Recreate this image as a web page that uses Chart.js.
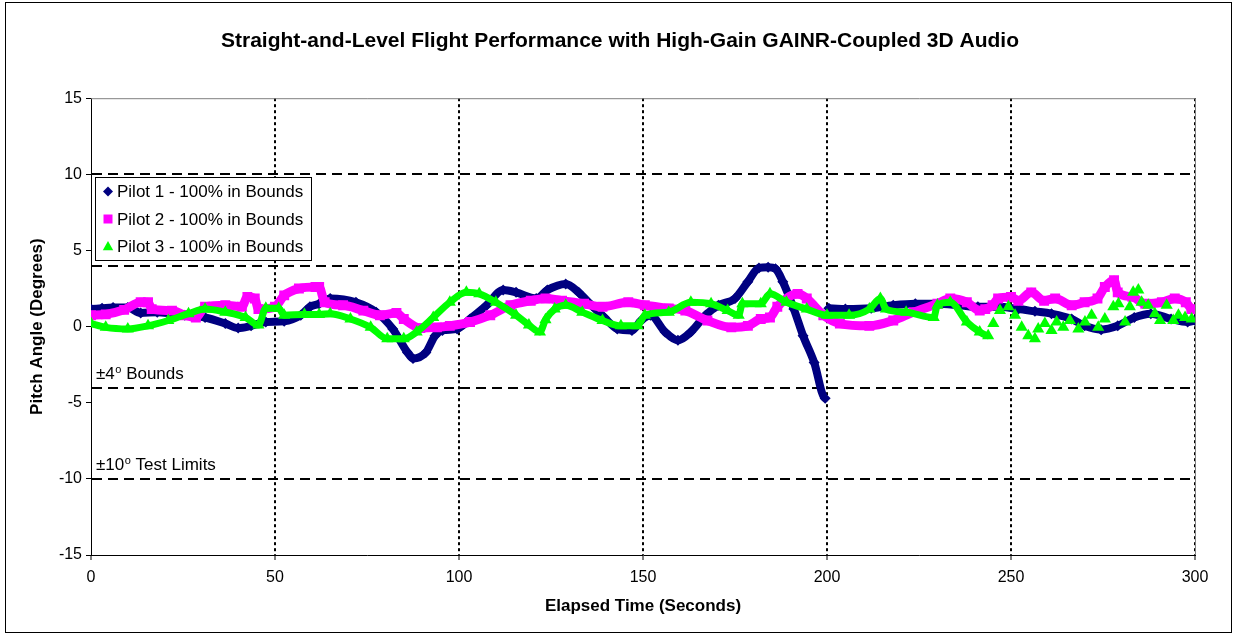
<!DOCTYPE html>
<html>
<head>
<meta charset="utf-8">
<title>Straight-and-Level Flight Performance</title>
<script src="https://cdn.jsdelivr.net/npm/chart.js@4.4.1/dist/chart.umd.min.js"></script>
<style>
  html, body { margin: 0; padding: 0; background: #fff; }
  #wrap { position: relative; width: 1236px; height: 637px; }
</style>
</head>
<body>
<div id="wrap"><canvas id="flight" width="1236" height="637"></canvas></div>
<script>
// elapsed time (s) and pitch angle (deg)
const p1Time = [0, 3, 6, 10, 13.5, 18, 22, 25.5, 31, 36.5, 40, 43.5, 47.5, 52.5, 57, 59.5, 62, 65, 72, 77.5,
  82, 86, 87.5, 91, 93.5, 95.5, 99.5, 103, 107.5, 112, 115.5, 121, 124, 129, 132.5, 136, 139.5, 143, 147, 149.5,
  152, 156, 159.5, 163, 167, 170.5, 175, 178.5, 181.5, 184, 186, 188, 191, 193.5, 196.5, 199.5,
  200.5, 205, 212, 218, 224, 230, 236, 241, 246.5, 252, 256.5, 261, 266.5, 270, 274.5, 279, 283.5, 288, 293.5, 298, 300];
const p1Pitch = [1.15, 1.2, 1.25, 1.25, 0.9, 0.95, 0.85, 0.75, 0.6, 0.2, -0.1, 0.05, 0.3, 0.35, 0.75, 1.3, 1.5, 1.85, 1.6, 0.95,
  -0.15, -1.7, -2.1, -1.7, -0.6, -0.25, -0.15, 0.5, 1.4, 2.4, 2.25, 1.85, 2.4, 2.8, 2.25, 1.4, 0.6, -0.15, -0.25, 0.4,
  0.75, -0.35, -0.9, -0.35, 0.75, 1.4, 1.85, 2.95, 3.85, 3.9, 3.8, 2.95, 1.15, -0.6, -2.35, -4.7,
  1.2, 1.15, 1.2, 1.4, 1.5, 1.5, 1.4, 1.3, 1.3, 1.15, 1.0, 0.85, 0.5, 0.05, -0.2, 0.05, 0.6, 0.85, 0.5, 0.3, 0.4];

const p2Time = [0, 4, 9, 13.5, 15.5, 16.5, 22, 25.5, 28.5, 31, 36.5, 41, 42.5, 44.5, 45.5, 50, 52.5, 56.5, 61, 62,
  63.5, 68.5, 74, 78.5, 83, 85, 89.5, 94, 97.5, 103, 108.5, 114, 119.5, 123.5, 128, 134, 139, 146, 150.5, 157,
  161.5, 167.5, 174, 178.5, 182, 184.5, 186.5, 192, 194.5, 199, 203.5, 211.5, 218, 223.5, 230, 233.5, 238, 241.5, 243, 245,
  246.5, 250, 252, 255.5, 259, 262, 266.5, 270, 273.5, 275.5, 278, 279, 283, 286.5, 291, 294.5, 297.5, 299];
const p2Pitch = [0.75, 0.8, 1.1, 1.6, 1.6, 1.15, 1.05, 0.75, 0.6, 1.3, 1.4, 1.3, 1.95, 1.85, 1.15, 1.3, 2.05, 2.5, 2.6, 2.6,
  1.6, 1.4, 1.05, 0.75, 0.9, 0.5, -0.1, -0.05, 0.05, 0.3, 0.75, 1.4, 1.7, 1.85, 1.7, 1.5, 1.3, 1.6, 1.4, 1.2,
  1.05, 0.4, -0.05, 0.05, 0.5, 0.6, 1.3, 2.15, 1.85, 0.75, 0.2, 0.05, 0.4, 0.95, 1.5, 1.85, 1.6, 1.05, 1.15, 1.4,
  1.85, 1.95, 1.7, 2.25, 1.7, 1.85, 1.4, 1.6, 1.85, 2.6, 3.05, 2.25, 1.95, 1.5, 1.6, 1.85, 1.6, 1.15];

const p3Time = [0, 4, 10, 15.5, 21, 26.5, 31, 36.5, 42, 45.5, 47.5, 51, 52.5, 58, 62, 65, 70.5, 76, 80.5, 85,
  88.5, 93, 97.5, 102, 105.5, 110, 115.5, 119, 122, 123.5, 126, 129, 133.5, 139, 144, 148.5, 150.5, 157, 163, 168.5,
  173, 176, 177, 182, 184.5, 189, 194.5, 200, 206, 211.5, 214.5, 216, 221.5, 229, 230, 233.5, 238, 241.5, 243.8,
  245.2, 247, 249.3, 251.1, 252.9, 254.7, 256.5, 257.4, 259.2, 261, 262.4, 264.2, 266, 268.3, 270.1, 271.9, 273.7,
  275.5, 277.8, 279.2, 281, 282.3, 283.2, 284.6, 285.5, 287.3, 289.1, 290.5, 292.3, 294.1, 295.5, 297.3, 299.1];
const p3Pitch = [0.2, -0.05, -0.15, 0.05, 0.4, 0.85, 1.15, 0.95, 0.6, 0.1, 1.2, 1.2, 0.75, 0.8, 0.8, 0.85, 0.5, -0.05, -0.8, -0.8,
  -0.35, 0.6, 1.6, 2.25, 2.15, 1.6, 0.75, 0.1, -0.35, 0.45, 1.15, 1.4, 0.95, 0.4, 0.05, 0.05, 0.75, 0.95, 1.6, 1.5,
  1.05, 0.75, 1.5, 1.5, 2.15, 1.6, 1.15, 0.75, 0.75, 1.15, 1.85, 1.15, 0.95, 0.6, 1.4, 1.6, 0.3, -0.35, -0.6,
  0.2, 1.05, 1.3, 0.75, -0.05, -0.6, -0.8, -0.15, 0.2, -0.25, 0.3, -0.05, 0.4, -0.15, 0.3, 0.75, -0.05,
  0.5, 1.3, 1.5, 0.3, 1.3, 2.25, 2.4, 1.6, 1.4, 0.85, 0.4, 1.4, 0.4, 0.75, 0.6, 0.5];
// after this time pilot 3 shows up only as scattered markers
const p3ScatterFrom = 243.8;

const seriesLabels = ['Pilot 1 - 100% in Bounds', 'Pilot 2 - 100% in Bounds', 'Pilot 3 - 100% in Bounds'];

const xTicks = { min: 0, max: 300, step: 50 };
const yTicks = { min: -15, max: 15, step: 5 };

// dashed bound lines and their notes
const boundLevels = [10, 4, -4, -10];
const noteLevels = [-4, -10];
const noteTexts = [['\u00b14', 'o', ' Bounds'], ['\u00b110', 'o', ' Test Limits']];

const FONT = '"Liberation Sans", Arial, sans-serif';
Chart.defaults.font.family = FONT;
Chart.defaults.color = '#000';

const pts = (xs, ys) => xs.map((x, i) => ({ x: x, y: ys[i] }));

// hide connecting line across big jumps (trace restarts)
const jumpGap = (limit) => (ctx) => {
  const a = ctx.p0.parsed, b = ctx.p1.parsed;
  if (Math.abs(b.y - a.y) > 3 || a.x >= limit) return 'rgba(0,0,0,0)';
  return undefined;
};

function marker(ctx, style, x, y, r) {
  ctx.beginPath();
  if (style === 'rectRot') {
    ctx.moveTo(x, y - r); ctx.lineTo(x + r, y); ctx.lineTo(x, y + r); ctx.lineTo(x - r, y);
  } else if (style === 'rect') {
    ctx.rect(x - r, y - r, 2 * r, 2 * r);
  } else {
    ctx.moveTo(x, y - r); ctx.lineTo(x + r * 0.95, y + r * 0.7); ctx.lineTo(x - r * 0.95, y + r * 0.7);
  }
  ctx.closePath();
  ctx.fill();
}

const decor = {
  id: 'decor',
  beforeDatasetsDraw(chart) {
    const { ctx, chartArea: a, scales: { y } } = chart;
    ctx.save();
    // grey frame on top and right of plot area
    ctx.strokeStyle = '#808080';
    ctx.lineWidth = 1;
    ctx.beginPath();
    ctx.moveTo(a.left, a.top + 0.5);
    ctx.lineTo(a.right + 0.5, a.top + 0.5);
    ctx.lineTo(a.right + 0.5, a.bottom);
    ctx.stroke();

    ctx.strokeStyle = '#000';
    ctx.lineWidth = 2;
    ctx.setLineDash([10, 6]);
    boundLevels.forEach(v => {
      const py = Math.round(y.getPixelForValue(v));
      ctx.beginPath();
      ctx.moveTo(a.left + 1, py);
      ctx.lineTo(a.right, py);
      ctx.stroke();
    });
    ctx.setLineDash([]);

    ctx.fillStyle = '#000';
    ctx.textBaseline = 'alphabetic';
    noteLevels.forEach((v, i) => {
      const [lead, sup, tail] = noteTexts[i];
      const base = y.getPixelForValue(v) - 9;
      let x = a.left + 5;
      ctx.font = '17px ' + FONT;
      ctx.fillText(lead, x, base);
      x += ctx.measureText(lead).width + 0.5;
      ctx.font = '11px ' + FONT;
      ctx.fillText(sup, x, base - 6);
      x += ctx.measureText(sup).width;
      ctx.font = '17px ' + FONT;
      ctx.fillText(tail, x, base);
    });
    ctx.restore();
  },
  afterDatasetsDraw(chart) {
    const { ctx, chartArea: a, scales: { y } } = chart;
    const left = a.left + 4, top = Math.round(y.getPixelForValue(10)) + 3;
    ctx.save();
    ctx.fillStyle = '#fff';
    ctx.fillRect(left, top, 217, 84);
    ctx.strokeStyle = '#000';
    ctx.lineWidth = 1;
    ctx.strokeRect(left + 0.5, top + 0.5, 216, 83);
    ctx.font = '17px ' + FONT;
    ctx.textBaseline = 'middle';
    chart.data.datasets.forEach((ds, i) => {
      const cy = top + 14.5 + i * 27.5;
      ctx.fillStyle = ds.pointBackgroundColor;
      const r = ds.pointStyle === 'rect' ? 4.5 : (ds.pointStyle === 'triangle' ? 5.5 : 5);
      marker(ctx, ds.pointStyle, left + 13, cy, r);
      ctx.fillStyle = '#000';
      ctx.fillText(ds.label, left + 22, cy + 1);
    });
    ctx.restore();
  },
  afterDraw(chart) {
    const { ctx } = chart;
    ctx.save();
    ctx.strokeStyle = '#000';
    ctx.lineWidth = 1;
    ctx.strokeRect(5.5, 2.5, 1226, 630);
    ctx.restore();
  }
};

new Chart(document.getElementById('flight'), {
  type: 'scatter',
  data: {
    datasets: [
      {
        label: seriesLabels[0],
        data: pts(p1Time, p1Pitch),
        showLine: true,
        borderColor: '#000080',
        backgroundColor: '#000080',
        pointBackgroundColor: '#000080',
        borderWidth: 8,
        pointStyle: 'rectRot',
        pointRadius: 5.5,
        pointBorderWidth: 0,
        cubicInterpolationMode: 'monotone',
        borderJoinStyle: 'round',
        segment: { borderColor: jumpGap(1000) },
        order: 3
      },
      {
        label: seriesLabels[1],
        data: pts(p2Time, p2Pitch),
        showLine: true,
        borderColor: '#ff00ff',
        backgroundColor: '#ff00ff',
        pointBackgroundColor: '#ff00ff',
        borderWidth: 9,
        pointStyle: 'rect',
        pointRadius: 7,
        pointBorderWidth: 0,
        cubicInterpolationMode: 'monotone',
        borderJoinStyle: 'round',
        segment: { borderColor: jumpGap(1000) },
        order: 2
      },
      {
        label: seriesLabels[2],
        data: pts(p3Time, p3Pitch),
        showLine: true,
        borderColor: '#00ff00',
        backgroundColor: '#00ff00',
        pointBackgroundColor: '#00ff00',
        borderWidth: 7,
        pointStyle: 'triangle',
        pointRadius: 7,
        pointBorderWidth: 0,
        cubicInterpolationMode: 'monotone',
        borderJoinStyle: 'round',
        segment: { borderColor: jumpGap(p3ScatterFrom) },
        order: 1
      }
    ]
  },
  options: {
    responsive: false,
    animation: false,
    devicePixelRatio: 1,
    layout: { padding: { left: 10, right: 6, top: 0, bottom: 0 } },
    plugins: {
      legend: { display: false },
      tooltip: { enabled: false },
      title: {
        display: true,
        text: 'Straight-and-Level Flight Performance with High-Gain GAINR-Coupled 3D Audio',
        font: { size: 21, weight: 'bold' },
        color: '#000',
        padding: { top: 29, bottom: 44 }
      }
    },
    scales: {
      x: {
        type: 'linear',
        min: xTicks.min,
        max: xTicks.max,
        ticks: { stepSize: xTicks.step, padding: 8, font: { size: 16 }, maxRotation: 0 },
        grid: {
          color: (c) => (c.tick && c.tick.value === xTicks.min) ? 'rgba(0,0,0,0)' : '#000',
          lineWidth: 2,
          tickLength: 5,
          tickColor: '#000',
          tickWidth: 1,
          tickBorderDash: []
        },
        border: { display: true, color: '#000', width: 1, dash: [3, 3] },
        title: {
          display: true,
          text: 'Elapsed Time (Seconds)',
          font: { size: 17, weight: 'bold' },
          padding: { top: 0, bottom: 20 }
        },
        afterFit: (s) => { s.height = 82; }
      },
      y: {
        type: 'linear',
        min: yTicks.min,
        max: yTicks.max,
        ticks: { stepSize: yTicks.step, padding: 4, font: { size: 16 } },
        grid: { drawOnChartArea: false, tickLength: 5, color: '#000' },
        border: { display: true, color: '#000', width: 1 },
        title: {
          display: true,
          text: 'Pitch Angle (Degrees)',
          font: { size: 17, weight: 'bold' },
          padding: { top: 17, bottom: 0 }
        },
        afterFit: (s) => { s.width = 81; }
      },
      pad: {
        type: 'linear',
        position: 'right',
        display: true,
        ticks: { display: false },
        grid: { display: false },
        border: { display: false },
        afterFit: (s) => { s.width = 35; }
      }
    }
  },
  plugins: [decor]
});
</script>
</body>
</html>
